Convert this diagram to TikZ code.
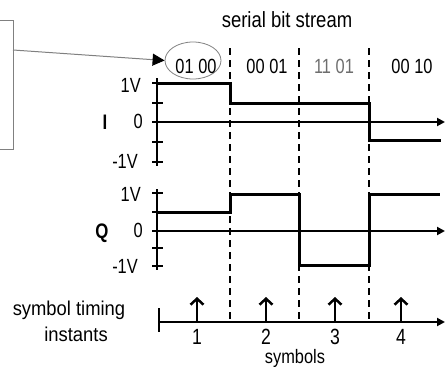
\documentclass[tikz,border=0pt]{standalone}
\usepackage{fontspec}
\setmainfont{Liberation Sans}
\newfontfamily\narrow{Liberation Sans}[FakeStretch=0.8]
\newfontfamily\semi{Liberation Sans}[FakeStretch=0.84]
\newfontfamily\wide{Liberation Sans}[FakeStretch=0.92]
\usetikzlibrary{arrows.meta,shapes.geometric}
\definecolor{linegray}{RGB}{128,128,128}
\definecolor{textgray}{RGB}{110,110,110}
\begin{document}
\begin{tikzpicture}[x=1pt,y=-1pt,
  digits/.style={inner sep=0pt,font=\narrow\fontsize{20.5}{22}\selectfont},
  bignum/.style={inner sep=0pt,font=\narrow\fontsize{22}{24}\selectfont},
  heading/.style={inner sep=0pt,font=\semi\fontsize{22}{24}\selectfont},
  word/.style={inner sep=0pt,font=\wide\fontsize{20}{22}\selectfont},
  chan/.style={inner sep=0pt,font=\narrow\bfseries\fontsize{21}{23}\selectfont},
  wave/.style={line width=3pt},
  axisline/.style={line width=2pt,-{Triangle[length=8pt,width=8pt]}},
  yaxis/.style={line width=2pt},
  tickmark/.style={line width=1.8pt},
  divider/.style={line width=2.5pt,dash pattern=on 7pt off 5pt},
  instant/.style={line width=2.5pt,-{Straight Barb[length=6pt,width=13pt]}}]
\useasboundingbox (0,0) rectangle (448,367);

% left partial box and pointer
\node[draw=linegray,line width=1pt,minimum width=100pt,minimum height=129pt,inner sep=0pt] (box) at (-37,84.5) {};
\node[ellipse,draw=linegray,line width=0.8pt,minimum width=56pt,minimum height=37pt,inner sep=0pt] (ell) at (193,60.5) {};
\coordinate (boxout) at (13,50);
\draw[linegray,line width=1pt,-{Triangle[length=12pt,width=12pt,color=black]}] (boxout) -- (ell.west);

% header
\node[heading,anchor=base] (title) at (287,27) {serial bit stream};
\node[digits,anchor=base] (b1) at (196,73.5) {01 00};
\node[digits,anchor=base] (b2) at (267,73.5) {00 01};
\node[digits,anchor=base,text=textgray] (b3) at (334,73.5) {11 01};
\node[digits,anchor=base] (b4) at (412,73.5) {00 10};

% dividers
\foreach \x/\w in {230/2.5pt,299/2pt,369/2.5pt}
  \draw[divider,line width=\w] (\x,48) -- (\x,322);

% I channel
\node[chan] (ilab) at (105,122) {I};
\node[digits,anchor=east] (i1) at (141,85) {1V};
\node[digits,anchor=east] (i0) at (143,121.5) {0};
\node[digits,anchor=east] (im) at (138,161.5) {-1V};
\draw[yaxis] (157,78) -- (157,166);
\foreach \y in {83,103,142,162} \draw[tickmark] (152,\y) -- (163,\y);
\draw[axisline] (152,122) -- (445,122);
\draw[wave] (157,83) -- (230,83) -- (230,103) -- (369,103) -- (369,140.5) -- (441,140.5);

% Q channel
\node[chan] (qlab) at (102,233) {Q};
\node[digits,anchor=east] (q1) at (141,194) {1V};
\node[digits,anchor=east] (q0) at (143,230) {0};
\node[digits,anchor=east] (qm) at (138,266.5) {-1V};
\draw[yaxis] (157,189) -- (157,270);
\foreach \y in {193,212,248,266} \draw[tickmark] (152,\y) -- (163,\y);
\draw[axisline] (152,231) -- (445,231);
\draw[wave] (157,212) -- (230,212) -- (230,194) -- (299,194) -- (299,265) -- (369,265) -- (369,194) -- (440,194);

% symbol timing
\node[word,anchor=base] (st) at (69,315) {symbol timing};
\node[word,anchor=base] (inst) at (76,341) {instants};
\draw[line width=2pt] (159,308) -- (159,332);
\draw[axisline] (159,322) -- (445,322);
\foreach \x/\n in {197/1,266/2,335/3,401/4}{
  \draw[instant] (\x,322) -- (\x,297);
  \node[bignum,anchor=base] (n\n) at (\x,344) {\n};
}
\node[word,anchor=base,font=\semi\fontsize{19.5}{21}\selectfont] (sym) at (295,363) {symbols};
\end{tikzpicture}
\end{document}
